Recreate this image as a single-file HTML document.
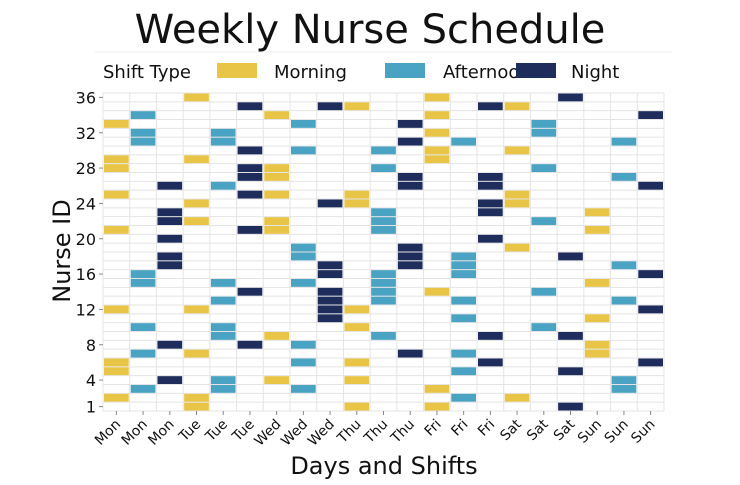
<!DOCTYPE html>
<html><head><meta charset="utf-8"><style>
body{margin:0;background:#fff;width:740px;height:480px;overflow:hidden;font-family:"Liberation Sans","DejaVu Sans",sans-serif}
</style></head><body>
<svg id="chart" width="740" height="480" viewBox="0 0 740 480" font-family="DejaVu Sans, Liberation Sans, sans-serif">
<text x="370" y="43" text-anchor="middle" font-size="40" fill="#111">Weekly Nurse Schedule</text>
<line x1="95" y1="52" x2="672" y2="52" stroke="#eee" stroke-width="1"/>
<g font-size="18" fill="#111">
<text x="103" y="78">Shift Type</text>
<rect x="217" y="63" width="40" height="15" fill="#E8C547"/>
<text x="274" y="78">Morning</text>
<rect x="385" y="63" width="40" height="15" fill="#4AA3C3"/>
<text x="443" y="78">Afternoon</text>
<rect x="516" y="63" width="40" height="15" fill="#1F2D5C"/>
<text x="571" y="78">Night</text>
</g>
<g id="grid"></g>
<g id="cells"></g>
<g id="axes"></g>
<text transform="translate(70,251) rotate(-90)" text-anchor="middle" font-size="24" fill="#111">Nurse ID</text>
<text x="384" y="474" text-anchor="middle" font-size="24" fill="#111">Days and Shifts</text>
</svg>
<script>
const categories=["Mon","Mon","Mon","Tue","Tue","Tue","Wed","Wed","Wed","Thu","Thu","Thu","Fri","Fri","Fri","Sat","Sat","Sat","Sun","Sun","Sun"];
const shiftTypes=["Morning","Afternoon","Night","Morning","Afternoon","Night","Morning","Afternoon","Night","Morning","Afternoon","Night","Morning","Afternoon","Night","Morning","Afternoon","Night","Morning","Afternoon","Night"];
const nurseIds=[1,36];
const yTickLabels=[1,4,8,12,16,20,24,28,32,36];
const assignedNurses=[
[33,29,28,25,21,12,6,5,2],
[34,32,31,16,15,10,7,3],
[26,23,22,20,18,17,8,4],
[36,29,24,22,12,7,2,1],
[32,31,26,15,13,10,9,4,3],
[35,30,28,27,25,21,14,8],
[34,28,27,25,22,21,9,4],
[33,30,19,18,15,8,6,3],
[35,24,17,16,14,13,12,11],
[35,25,24,12,10,6,4,1],
[30,28,23,22,21,16,15,14,13,9],
[33,31,27,26,19,18,17,7],
[36,34,32,30,29,14,3,1],
[31,18,17,16,13,11,7,5,2],
[35,27,26,24,23,20,9,6],
[35,30,25,24,19,2],
[33,32,28,22,14,10],
[36,18,9,5,1],
[23,21,15,11,8,7],
[31,27,17,13,4,3],
[34,26,16,12,6]
];
const colors={Morning:"#E8C547",Afternoon:"#4AA3C3",Night:"#1F2D5C"};
const X0=103,X1=664,Y0=93,Y1=411;
const nCols=categories.length,nRows=nurseIds[1]-nurseIds[0]+1;
const cw=(X1-X0)/nCols,rh=(Y1-Y0)/nRows;
function xPos(c){return X0+c*cw;}
function yPos(id){return Y1-(id-nurseIds[0]+1)*rh;}
const NS="http://www.w3.org/2000/svg";
const grid=document.getElementById('grid'),cells=document.getElementById('cells'),axes=document.getElementById('axes');
function mk(tag,attrs,parent){const e=document.createElementNS(NS,tag);for(const k in attrs)e.setAttribute(k,attrs[k]);parent.appendChild(e);return e;}
for(let i=0;i<=nRows;i++){
 const l=mk('line',{x1:X0,x2:X1,y1:Y0+i*rh,y2:Y0+i*rh,stroke:'#e4e4e4','stroke-width':1},grid);
 
 
}
for(let c=0;c<=nCols;c++){
 const l=mk('line',{x1:xPos(c),x2:xPos(c),y1:Y0,y2:Y1,stroke:'#e4e4e4','stroke-width':1},grid);
 
 
}
assignedNurses.forEach((ids,c)=>{
 ids.forEach(id=>{
  const r=mk('rect',{x:xPos(c)+1,y:yPos(id)+0.5,width:cw-2,height:rh-1,fill:colors[shiftTypes[c]]},cells);
  
  
 });
});
yTickLabels.forEach(v=>{
 const y=yPos(v)+rh/2;
 const t=mk('line',{x1:X0-4,x2:X0,y1:y,y2:y,stroke:'#888'},axes);
 
 
 const tx=mk('text',{x:X0-7,y:y+6,'text-anchor':'end','font-size':16,fill:'#111'},axes);
 tx.textContent=v;
 
 
});
categories.forEach((c,i)=>{
 const x=xPos(i)+cw/2;
 const t=mk('line',{x1:x,x2:x,y1:Y1,y2:Y1+4,stroke:'#888'},axes);
 
 
 const tx=mk('text',{x:x+5,y:Y1+14,'text-anchor':'end','font-size':14,fill:'#111',transform:'rotate(-45 '+(x+5)+' '+(Y1+14)+')'},axes);
 tx.textContent=c;
 
 
});
</script>
</body></html>
